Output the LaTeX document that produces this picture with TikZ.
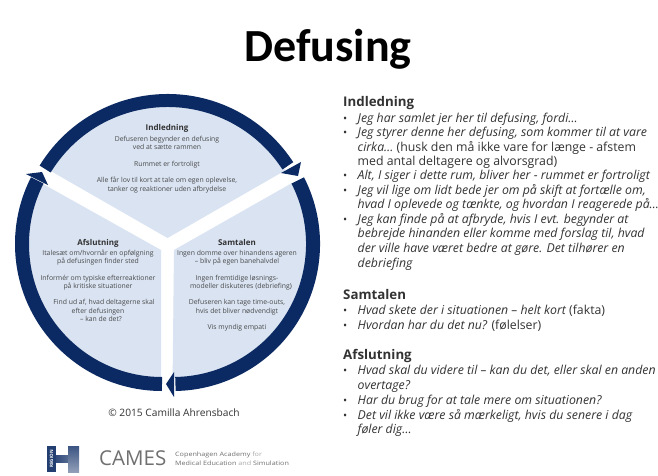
\documentclass[tikz,border=0pt]{standalone}
\usepackage{fontspec}
\usetikzlibrary{calc}
\setmainfont{Open Sans}
\newfontfamily\titlefont{Carlito}
\definecolor{navy}{HTML}{0B2A63}
\definecolor{pale}{HTML}{D9E3F2}
\definecolor{ink}{HTML}{333333}
\definecolor{soft}{HTML}{707070}
\definecolor{wtext}{HTML}{4A4A4A}
\tikzset{
  px/.style={x=1pt,y=1pt},
  ringarc/.style={draw=navy,line width=14pt},
  toparc/.style={draw=navy,line width=13pt},
  tip/.style={fill=navy,draw=none},
  wheelhead/.style={anchor=base,font=\fontsize{8}{10}\selectfont\bfseries,text=ink,inner sep=0pt},
  wheeltext/.style={anchor=base,font=\fontsize{6.85}{8}\selectfont,text=wtext,inner sep=0pt},
  rhead/.style={anchor=base west,font=\fontsize{13.3}{15}\selectfont\bfseries,text=ink,inner sep=0pt},
  rline/.style={anchor=base west,font=\fontsize{12.3}{14}\selectfont,text=ink,inner sep=0pt},
  rbul/.style={anchor=base west,font=\fontsize{11}{14}\selectfont,text=ink,inner sep=0pt},
  smalllogo/.style={anchor=base west,font=\fontsize{6}{7}\selectfont,text=soft,inner sep=0pt},
}
\begin{document}
\begin{tikzpicture}[px]
\useasboundingbox (0,0) rectangle (658,475);
\fill[white] (0,0) rectangle (658,475);
% title
\node[anchor=base,font=\titlefont\fontsize{46}{50}\selectfont\bfseries,text=black,inner sep=0pt] (title) at (328,475-61.5) {Defusing};
\coordinate (ct) at (167.5,475-244);
\coordinate (cr) at (173,475-244);
\coordinate (cl) at (162,475-244);
% wheel sectors
\fill[pale] (167.5,475-238) -- ($(ct)+(148:139)$) arc[start angle=148,end angle=32,radius=139] -- cycle;
\fill[pale] (174,475-250) -- (292,475-183) arc[start angle=27,end angle=-90,radius=134] -- cycle;
\fill[pale] (161,475-250) -- (161,475-378) arc[start angle=270,end angle=153,radius=134] -- cycle;
% arrows
\draw[toparc] (ct) ++(148.5:143.5) arc[start angle=148.5,end angle=33,radius=143.5];
\fill[tip] (301,475-162) -- (281,475-173) -- (298,475-176) -- cycle;
\draw[ringarc] (cr) ++(27:140) arc[start angle=27,end angle=-89,radius=140];
\fill[tip] (174,475-372) -- (174,475-397) -- (166,475-384) -- cycle;
\draw[ringarc] (cl) ++(270:140) arc[start angle=270,end angle=153,radius=140];
\fill[tip] (26,475-174) -- (48,475-185) -- (42,475-172) -- cycle;
% wheel: Indledning
\node[wheelhead] (wa) at (167,475-130) {Indledning};
\node[wheeltext] (wa1) at (167,475-141) {Defuseren begynder en defusing};
\node[wheeltext] (wa2) at (167,475-149) {ved at sætte rammen};
\node[wheeltext] (wa3) at (167,475-166) {Rummet er fortroligt};
\node[wheeltext] (wa4) at (167,475-182) {Alle får lov til kort at tale om egen oplevelse,};
\node[wheeltext] (wa5) at (167,475-191) {tanker og reaktioner uden afbrydelse};
% wheel: Afslutning
\node[wheelhead] (wb) at (98,475-245) {Afslutning};
\node[wheeltext] (wb1) at (98,475-255) {Italesæt om/hvornår en opfølgning};
\node[wheeltext] (wb2) at (98,475-263) {på defusingen finder sted};
\node[wheeltext] (wb3) at (98,475-280) {Informér om typiske efterreaktioner};
\node[wheeltext] (wb4) at (98,475-288) {på kritiske situationer};
\node[wheeltext] (wb5) at (104,475-304) {Find ud af, hvad deltagerne skal};
\node[wheeltext] (wb6) at (98,475-313) {efter defusingen};
\node[wheeltext] (wb7) at (101,475-321) {– kan de det?};
% wheel: Samtalen
\node[wheelhead] (wc) at (237,475-245) {Samtalen};
\node[wheeltext] (wc1) at (237,475-255) {Ingen domme over hinandens ageren};
\node[wheeltext] (wc2) at (237,475-263) {– bliv på egen banehalvdel};
\node[wheeltext] (wc3) at (237,475-280) {Ingen fremtidige løsnings-};
\node[wheeltext] (wc4) at (241,475-288) {modeller diskuteres (debriefing)};
\node[wheeltext] (wc5) at (237,475-304) {Defuseren kan tage time-outs,};
\node[wheeltext] (wc6) at (237,475-313) {hvis det bliver nødvendigt};
\node[wheeltext] (wc7) at (237,475-329) {Vis myndig empati};
% copyright
\node[anchor=base,font=\fontsize{10.2}{12}\selectfont,text=ink,inner sep=0pt] (copy) at (174,475-416.5) {© 2015 Camilla Ahrensbach};
% right column
\node[rhead] (h1) at (343,475-106) {Indledning};
\foreach \n/\y/\t in {a/122/{\itshape Jeg har samlet jer her til defusing, fordi…},
 b/136/{\itshape Jeg styrer denne her defusing, som kommer til at vare},
 d/179/{\itshape Alt, I siger i dette rum, bliver her - rummet er fortroligt},
 e/194/{\itshape Jeg vil lige om lidt bede jer om på skift at fortælle om,},
 g/223/{\itshape Jeg kan finde på at afbryde, hvis I evt. begynder at},
 m/314/{\itshape Hvad skete der i situationen – helt kort} (fakta),
 n/329/{\itshape Hvordan har du det nu?} (følelser),
 o/374/{\itshape Hvad skal du videre til – kan du det, eller skal en anden},
 p/404/{\itshape Har du brug for at tale mere om situationen?},
 q/419/{\itshape Det vil ikke være så mærkeligt, hvis du senere i dag}}{
  \node[rbul] (b\n) at (343,475-\y) {•};
  \node[rline] (t\n) at (357.5,475-\y) {\t};
}
\foreach \n/\y/\t in {c1/151/{\itshape cirka…} (husk den må ikke vare for længe - afstem,
 c2/165/med antal deltagere og alvorsgrad),
 f/208/{\itshape hvad I oplevede og tænkte, og hvordan I reagerede på…},
 h/237/{\itshape bebrejde hinanden eller komme med forslag til, hvad},
 i/252/{\itshape der ville have været bedre at gøre. Det tilhører en},
 j/267/{\itshape debriefing},
 k/389/{\itshape overtage?},
 l/433/{\itshape føler dig…}}{
  \node[rline] (t\n) at (357.5,475-\y) {\t};
}
\node[rhead] (h2) at (343,475-299) {Samtalen};
\node[rhead] (h3) at (343,475-359) {Afslutning};
% logo
\fill[navy!90!white] (47,475-472) rectangle (56,475-446);
\shade[left color=navy!85!white,right color=navy!70!white] (56,475-462) rectangle (68,475-455);
\shade[top color=navy!80!white,bottom color=navy!45!white] (68,475-472) rectangle (79,475-446);
\node[rotate=90,font=\fontsize{4.5}{5}\selectfont\bfseries,text=white,inner sep=0pt] (reg) at (51.5,475-459) {REGION};
\node[anchor=base west,font=\fontsize{20.5}{22}\selectfont,text=soft,inner sep=0pt] (cames) at (99,475-465) {CAMES};
\node[smalllogo] (ac1) at (175,475-456) {\scalebox{1.2}[1]{Copenhagen Academy \textcolor{soft!60}{for}}};
\node[smalllogo] (ac2) at (175,475-465) {\scalebox{1.2}[1]{Medical Education \textcolor{soft!60}{and} Simulation}};
\end{tikzpicture}
\end{document}
